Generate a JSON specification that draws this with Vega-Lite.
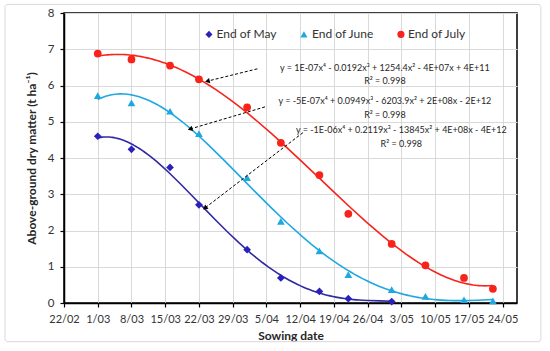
{
  "$schema": "https://vega.github.io/schema/vega-lite/v6.json",
  "width": 453,
  "height": 290,
  "autosize": {"type": "none"},
  "padding": {"left": 64, "top": 13, "right": 33, "bottom": 48},
  "background": "white",
  "config": {
    "font": "Lato",
    "view": {"stroke": "black", "strokeWidth": 1.5},
    "axis": {
      "labelFont": "Lato", "labelFontSize": 11, "labelColor": "#333333",
      "titleFont": "Lato", "titleFontSize": 12, "titleFontWeight": "bold", "titleColor": "#262626",
      "gridColor": "#d9d9d9", "gridWidth": 1,
      "domainColor": "black", "domainWidth": 1.5,
      "tickColor": "black", "tickWidth": 1.2, "tickSize": 4, "labelPadding": 6,
      "labelOverlap": false, "labelBound": false, "labelFlush": false
    }
  },
  "datasets": {
    "obs": [
      {"date": "2019-03-01", "series": "End of May", "value": 4.60},
      {"date": "2019-03-08", "series": "End of May", "value": 4.24},
      {"date": "2019-03-16", "series": "End of May", "value": 3.74},
      {"date": "2019-03-22", "series": "End of May", "value": 2.71},
      {"date": "2019-04-01", "series": "End of May", "value": 1.47},
      {"date": "2019-04-08", "series": "End of May", "value": 0.69},
      {"date": "2019-04-16", "series": "End of May", "value": 0.32},
      {"date": "2019-04-22", "series": "End of May", "value": 0.12},
      {"date": "2019-05-01", "series": "End of May", "value": 0.04},
      {"date": "2019-03-01", "series": "End of June", "value": 5.72},
      {"date": "2019-03-08", "series": "End of June", "value": 5.52},
      {"date": "2019-03-16", "series": "End of June", "value": 5.29},
      {"date": "2019-03-22", "series": "End of June", "value": 4.67},
      {"date": "2019-04-01", "series": "End of June", "value": 3.46},
      {"date": "2019-04-08", "series": "End of June", "value": 2.25},
      {"date": "2019-04-16", "series": "End of June", "value": 1.44},
      {"date": "2019-04-22", "series": "End of June", "value": 0.78},
      {"date": "2019-05-01", "series": "End of June", "value": 0.37},
      {"date": "2019-05-08", "series": "End of June", "value": 0.18},
      {"date": "2019-05-16", "series": "End of June", "value": 0.09},
      {"date": "2019-05-22", "series": "End of June", "value": 0.06},
      {"date": "2019-03-01", "series": "End of July", "value": 6.88},
      {"date": "2019-03-08", "series": "End of July", "value": 6.72},
      {"date": "2019-03-16", "series": "End of July", "value": 6.55},
      {"date": "2019-03-22", "series": "End of July", "value": 6.17},
      {"date": "2019-04-01", "series": "End of July", "value": 5.40},
      {"date": "2019-04-08", "series": "End of July", "value": 4.42},
      {"date": "2019-04-16", "series": "End of July", "value": 3.53},
      {"date": "2019-04-22", "series": "End of July", "value": 2.46},
      {"date": "2019-05-01", "series": "End of July", "value": 1.63},
      {"date": "2019-05-08", "series": "End of July", "value": 1.04},
      {"date": "2019-05-16", "series": "End of July", "value": 0.69},
      {"date": "2019-05-22", "series": "End of July", "value": 0.39}
    ],
    "legend": [
      {"series": "End of May", "date": "2019-03-24T02:00:00Z", "labelDate": "2019-03-25T16:00:00Z", "value": 7.41},
      {"series": "End of June", "date": "2019-04-12T19:00:00Z", "labelDate": "2019-04-14T11:00:00Z", "value": 7.41},
      {"series": "End of July", "date": "2019-05-02T22:00:00Z", "labelDate": "2019-05-04T09:00:00Z", "value": 7.41}
    ],
    "frame": [
      {"date": "2019-02-09T18:00:00Z", "date2": "2019-05-31T23:00:00Z", "value": 8.236, "value2": -1.068}
    ],
    "arrows": [
      {"arrow": "a1", "date": "2019-04-03T03:00:00Z", "value": 6.46, "date2": "2019-03-23T18:00:00Z", "value2": 6.12},
      {"arrow": "a2", "date": "2019-04-04T17:00:00Z", "value": 5.41, "date2": "2019-03-20T04:00:00Z", "value2": 4.80},
      {"arrow": "a3", "date": "2019-04-12T14:00:00Z", "value": 4.70, "date2": "2019-03-23T06:00:00Z", "value2": 2.62}
    ],
    "labels": [
      {"date": "2019-04-29T14:00:00Z", "value": 6.48, "label": "y = 1E-07x⁴ - 0.0192x³ + 1254.4x² - 4E+07x + 4E+11"},
      {"date": "2019-04-29T14:00:00Z", "value": 6.13, "label": "R² = 0.998"},
      {"date": "2019-04-29T14:00:00Z", "value": 5.56, "label": "y = -5E-07x⁴ + 0.0949x³ - 6203.9x² + 2E+08x - 2E+12"},
      {"date": "2019-04-29T14:00:00Z", "value": 5.19, "label": "R² = 0.998"},
      {"date": "2019-05-03T00:00:00Z", "value": 4.78, "label": "y = -1E-06x⁴ + 0.2119x³ - 13845x² + 4E+08x - 4E+12"},
      {"date": "2019-05-03T00:00:00Z", "value": 4.39, "label": "R² = 0.998"}
    ]
  },
  "encoding": {
    "x": {
      "field": "date", "type": "temporal",
      "scale": {"type": "utc", "domain": [
        {"year": 2019, "month": 2, "date": 22, "utc": true},
        {"year": 2019, "month": 5, "date": 27, "utc": true}
      ]},
      "axis": {
        "title": "Sowing date", "titlePadding": 6,
        "values": [
          {"year": 2019, "month": 2, "date": 22, "utc": true},
          {"year": 2019, "month": 3, "date": 1, "utc": true},
          {"year": 2019, "month": 3, "date": 8, "utc": true},
          {"year": 2019, "month": 3, "date": 15, "utc": true},
          {"year": 2019, "month": 3, "date": 22, "utc": true},
          {"year": 2019, "month": 3, "date": 29, "utc": true},
          {"year": 2019, "month": 4, "date": 5, "utc": true},
          {"year": 2019, "month": 4, "date": 12, "utc": true},
          {"year": 2019, "month": 4, "date": 19, "utc": true},
          {"year": 2019, "month": 4, "date": 26, "utc": true},
          {"year": 2019, "month": 5, "date": 3, "utc": true},
          {"year": 2019, "month": 5, "date": 10, "utc": true},
          {"year": 2019, "month": 5, "date": 17, "utc": true},
          {"year": 2019, "month": 5, "date": 24, "utc": true}
        ],
        "labelExpr": "utcFormat(datum.value, '%-d/%m')"
      }
    },
    "y": {
      "field": "value", "type": "quantitative",
      "scale": {"domain": [0, 8], "nice": false},
      "axis": {"title": "Above-ground dry matter (t ha⁻¹)", "values": [0,1,2,3,4,5,6,7,8], "titlePadding": 9, "labelFontSize": 11.5}
    }
  },
  "layer": [
    {
      "data": {"name": "frame", "format": {"parse": {"date": "date", "date2": "date"}}},
      "mark": {"type": "rect", "fill": null, "stroke": "#d9d9d9", "strokeWidth": 1, "cornerRadius": 3},
      "encoding": {
        "x2": {"field": "date2"},
        "y2": {"field": "value2"}
      }
    },
    {
      "data": {"name": "obs", "format": {"parse": {"date": "date"}}},
      "transform": [
        {"regression": "value", "on": "date", "groupby": ["series"], "method": "poly", "order": 4}
      ],
      "mark": {"type": "line", "strokeWidth": 1.6},
      "encoding": {
        "stroke": {"field": "series", "type": "nominal", "legend": null,
          "scale": {"domain": ["End of May", "End of June", "End of July"], "range": ["#2f2aa3", "#1fa8e0", "#f8231b"]}},
        "detail": {"field": "series"}
      }
    },
    {
      "data": {"name": "obs", "format": {"parse": {"date": "date"}}},
      "mark": {"type": "point", "filled": true, "opacity": 1, "size": 60},
      "encoding": {
        "color": {"field": "series", "type": "nominal", "legend": null,
          "scale": {"domain": ["End of May", "End of June", "End of July"], "range": ["#2b20bb", "#1fa8e0", "#f8231b"]}},
        "shape": {"field": "series", "type": "nominal", "legend": null,
          "scale": {"domain": ["End of May", "End of June", "End of July"], "range": ["diamond", "triangle-up", "circle"]}}
      }
    },
    {
      "data": {"name": "legend", "format": {"parse": {"date": "date", "labelDate": "date"}}},
      "mark": {"type": "point", "filled": true, "opacity": 1, "size": 50},
      "encoding": {
        "color": {"field": "series", "type": "nominal", "legend": null},
        "shape": {"field": "series", "type": "nominal", "legend": null}
      }
    },
    {
      "data": {"name": "legend", "format": {"parse": {"date": "date", "labelDate": "date"}}},
      "mark": {"type": "text", "align": "left", "baseline": "middle", "font": "Lato", "fontSize": 12, "color": "#333333"},
      "encoding": {
        "x": {"field": "labelDate", "type": "temporal"},
        "text": {"field": "series"}
      }
    },
    {
      "data": {"name": "arrows", "format": {"parse": {"date": "date", "date2": "date"}}},
      "mark": {"type": "rule", "strokeDash": [3, 2], "color": "black", "strokeWidth": 1},
      "encoding": {
        "x2": {"field": "date2"},
        "y2": {"field": "value2"}
      }
    },
    {
      "data": {"name": "arrows", "format": {"parse": {"date": "date", "date2": "date"}}},
      "transform": [{"filter": "datum.arrow === 'a1'"}],
      "mark": {"type": "point", "shape": "triangle-up", "filled": true, "color": "black", "size": 30, "angle": 256, "opacity": 1},
      "encoding": {"x": {"field": "date2", "type": "temporal"}, "y": {"field": "value2", "type": "quantitative"}}
    },
    {
      "data": {"name": "arrows", "format": {"parse": {"date": "date", "date2": "date"}}},
      "transform": [{"filter": "datum.arrow === 'a2'"}],
      "mark": {"type": "point", "shape": "triangle-up", "filled": true, "color": "black", "size": 30, "angle": 254, "opacity": 1},
      "encoding": {"x": {"field": "date2", "type": "temporal"}, "y": {"field": "value2", "type": "quantitative"}}
    },
    {
      "data": {"name": "arrows", "format": {"parse": {"date": "date", "date2": "date"}}},
      "transform": [{"filter": "datum.arrow === 'a3'"}],
      "mark": {"type": "point", "shape": "triangle-up", "filled": true, "color": "black", "size": 30, "angle": 232, "opacity": 1},
      "encoding": {"x": {"field": "date2", "type": "temporal"}, "y": {"field": "value2", "type": "quantitative"}}
    },
    {
      "data": {"name": "labels", "format": {"parse": {"date": "date"}}},
      "mark": {"type": "text", "font": "Lato", "fontSize": 9, "color": "#262626", "align": "center", "baseline": "middle"},
      "encoding": {"text": {"field": "label"}}
    }
  ]
}
